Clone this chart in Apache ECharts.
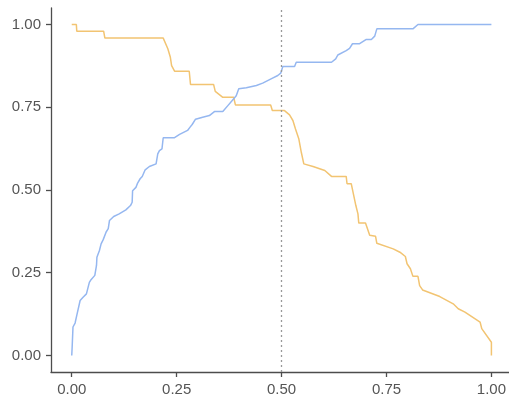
<!DOCTYPE html>
<html>
<head>
<meta charset="utf-8">
<script src="https://cdn.jsdelivr.net/npm/echarts@6/dist/echarts.min.js"></script>
<style>html,body{margin:0;padding:0;background:#fff;}#c{width:509px;height:399px;}</style>
</head>
<body>
<div id="c"></div>
<script>
// Blue series (rising curve): [x, y]
const blueX = [0,0.001,0.003,0.008,0.012,0.016,0.020,0.027,0.035,0.042,0.046,0.055,0.059,0.060,0.066,0.070,0.075,0.079,0.082,0.087,0.090,0.100,0.113,0.129,0.140,0.144,0.145,0.153,0.157,0.163,0.168,0.175,0.185,0.201,0.205,0.209,0.215,0.218,0.245,0.257,0.276,0.282,0.287,0.295,0.312,0.328,0.340,0.360,0.372,0.384,0.392,0.398,0.416,0.440,0.455,0.475,0.491,0.498,0.503,0.531,0.535,0.619,0.629,0.634,0.654,0.662,0.669,0.686,0.702,0.714,0.722,0.727,0.813,0.825,1.0];
const blueY = [0,0.025,0.086,0.098,0.121,0.126,0.166,0.176,0.186,0.221,0.229,0.242,0.272,0.297,0.317,0.337,0.350,0.353,0.373,0.383,0.408,0.420,0.428,0.440,0.453,0.463,0.498,0.508,0.521,0.534,0.541,0.561,0.571,0.579,0.609,0.619,0.624,0.658,0.658,0.668,0.680,0.690,0.698,0.714,0.720,0.725,0.737,0.737,0.755,0.773,0.785,0.806,0.809,0.816,0.823,0.836,0.846,0.853,0.873,0.873,0.886,0.886,0.896,0.908,0.921,0.928,0.942,0.942,0.955,0.955,0.965,0.987,0.987,1.0,1.0];
// Orange series (falling curve)
const orangeX = [0,0.011,0.012,0.076,0.079,0.218,0.229,0.235,0.238,0.245,0.280,0.283,0.338,0.342,0.360,0.386,0.390,0.474,0.478,0.507,0.519,0.527,0.533,0.535,0.541,0.547,0.553,0.575,0.603,0.619,0.654,0.656,0.666,0.672,0.677,0.682,0.684,0.700,0.710,0.724,0.727,0.766,0.782,0.795,0.799,0.807,0.813,0.825,0.829,0.836,0.877,0.909,0.921,0.937,0.973,0.977,1.0,1.0];
const orangeY = [1.0,1.0,0.980,0.980,0.959,0.959,0.927,0.901,0.876,0.859,0.859,0.819,0.819,0.798,0.780,0.780,0.757,0.757,0.740,0.740,0.727,0.710,0.685,0.680,0.655,0.614,0.579,0.571,0.559,0.541,0.541,0.519,0.519,0.483,0.453,0.428,0.400,0.400,0.363,0.360,0.339,0.322,0.312,0.299,0.277,0.262,0.239,0.239,0.211,0.198,0.178,0.156,0.141,0.131,0.101,0.081,0.040,0.0];
const tickValues = [0, 0.25, 0.5, 0.75, 1];
const cutoff = 0.5;

const zip = (a, b) => a.map((v, i) => [v, b[i]]);
const chart = echarts.init(document.getElementById('c'), null, {renderer: 'canvas'});
const lbl = {customValues: tickValues, color: '#555', fontSize: 15, margin: 10, fontFamily: 'Liberation Sans, Arial, sans-serif', formatter: v => v.toFixed(2)};
const axisCommon = {
  type: 'value',
  splitLine: {show: false},
  axisLine: {show: true, onZero: false, lineStyle: {color: '#4d4d4d', width: 1.3}},
  axisTick: {show: true, length: 5, customValues: tickValues, lineStyle: {color: '#4d4d4d', width: 1.3}},
  axisLabel: lbl
};
chart.setOption({
  animation: false,
  grid: {left: 51, right: 0, top: 8, bottom: 27, containLabel: false},
  xAxis: Object.assign({}, axisCommon, {min: -0.0494, max: 1.0418}),
  yAxis: Object.assign({}, axisCommon, {min: -0.05, max: 1.05}),
  series: [
    {type: 'line', data: zip(orangeX, orangeY), showSymbol: false, lineStyle: {color: '#F2C472', width: 1.5}, itemStyle: {color: '#F2C472'},
     markLine: {silent: true, symbol: 'none', label: {show: false}, lineStyle: {color: '#999', type: [2, 3], width: 1.3}, data: [{xAxis: cutoff}]}},
    {type: 'line', data: zip(blueX, blueY), showSymbol: false, lineStyle: {color: '#95B7F0', width: 1.5}, itemStyle: {color: '#95B7F0'}}
  ]
});
</script>
</body>
</html>
